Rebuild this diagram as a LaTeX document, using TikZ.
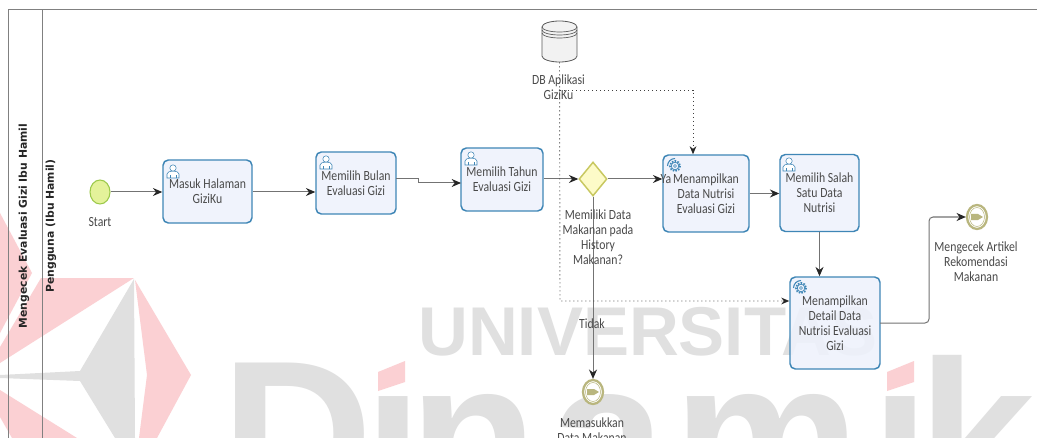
\documentclass[tikz,border=0pt]{standalone}
\usepackage{fontspec}
\setmainfont{Carlito}[FakeStretch=0.84]
\newfontfamily\wmfont{Liberation Sans}[BoldFont={Liberation Sans Bold}]
\newfontfamily\ttlfont{DejaVu Sans}
\usetikzlibrary{arrows.meta,shapes.geometric,calc}
\definecolor{bluebd}{HTML}{3F86B6}
\definecolor{boxfill}{HTML}{EEF2FC}
\definecolor{txt}{HTML}{4A4A4A}
\definecolor{wmgray}{HTML}{E0E0E0}
\definecolor{wmred}{HTML}{FBD0D3}
\definecolor{olive}{HTML}{B9B67E}
\definecolor{startfill}{HTML}{E4F29A}
\definecolor{startbd}{HTML}{9CC94A}
\definecolor{gatefill}{HTML}{FDFBC8}
\definecolor{gatebd}{HTML}{C8C860}
\tikzset{
  x=0.75pt,y=-0.75pt,
  taskbox/.style={draw=bluebd,line width=1.1pt,rounded corners=4pt,fill=boxfill,fill opacity=.88,text opacity=1,
    text=txt,align=center,inner sep=1pt,font=\fontsize{10.5}{11.2}\selectfont},
  lbl/.style={text=txt,align=center,inner sep=0pt,font=\fontsize{10.5}{11.2}\selectfont},
  flow/.style={draw=black!55,line width=.75pt,-{Stealth[length=7pt,width=6pt,color=black!85]}},
  dotflow/.style={draw=black!75,line width=.7pt,dash pattern=on .9pt off 2.1pt,-{Stealth[length=6pt,width=5pt,color=black!85]}},
  laneline/.style={draw=black!50,line width=.75pt},
  ttl/.style={rotate=90,inner sep=0pt,text=black!85,font=\ttlfont\bfseries\fontsize{8.1}{9}\selectfont},
  endring/.style={ellipse,draw=olive,line width=1.7pt,fill=white,minimum width=15pt,minimum height=18pt,inner sep=0pt},
  usericon/.pic={
    \draw[bluebd,line width=.4pt,fill=white] (-6,7) -- (-6,3) .. controls (-6,-1) and (6,-1) .. (6,3) -- (6,7) -- cycle;
    \draw[bluebd,line width=.4pt,fill=white] (0,-3) circle[radius=3.2];
    \draw[bluebd,line width=.4pt] (-3,7) -- (-3,4) (3,7) -- (3,4);
  },
  gearicon/.pic={
    \draw[bluebd,line width=1.2pt,dash pattern=on 1.2pt off 1pt] (0,0) circle[radius=5.2];
    \draw[bluebd,line width=.6pt] (0,0) circle[radius=3.8];
    \draw[bluebd,line width=.5pt] (0,0) circle[radius=1.5];
    \draw[bluebd,line width=.8pt] (-7.5,0) arc[start angle=180,end angle=270,radius=7.5];
  },
}
\begin{document}
\begin{tikzpicture}
\useasboundingbox (0,0) rectangle (1037,438);
\clip (0,0) rectangle (1037,438);
\fill[white] (0,0) rectangle (1037,438);
% watermark logo
\fill[wmred] (0,213) -- (32,273) -- (0,333) -- cycle;
\fill[wmred] (41,278) -- (134,278) -- (0,363) -- (0,347) -- cycle;
\fill[wmred] (135,280) -- (191,375) -- (157,438) -- (139,438) -- (147,375) -- cycle;
\fill[wmred] (0,390) -- (77,438) -- (12,438) -- (0,417) -- cycle;
\fill[wmgray] (134,279) -- (80,371) -- (0,375) -- (0,378) -- (80,381) -- (115,438) -- (135,438) -- cycle;
% watermark text
\node[anchor=base west,inner sep=0pt,text=wmgray,font=\wmfont\bfseries\fontsize{157.5}{158}\selectfont] (wm2) at (221,507) {D\kern-6.75pt i\kern-9.75pt n\kern9pt a\kern5.25pt m\kern9pt i\kern-9pt ka};
\fill[white] (372,350) rectangle (412,392);
\fill[white] (881,335) rectangle (921,392);
\fill[wmred] (378,372) -- (405,361) -- (405,382) -- (378,391) -- cycle;
\fill[wmred] (887,372) -- (914,361) -- (914,382) -- (887,391) -- cycle;
\node[anchor=base west,inner sep=0pt,text=wmgray,font=\wmfont\bfseries\fontsize{51.75}{52}\selectfont] (wm1) at (418,355) {UNIVERSITAS};
% pool
\draw[laneline] (8,438) -- (8,10) -- (1037,10);
\draw[laneline] (42,10) -- (42,438);
\node[ttl] (pool) at (24,226) {Mengecek Evaluasi Gizi Ibu Hamil};
\node[ttl] (lane) at (51,226) {Pengguna (Ibu Hamil)};
% events and gateway
\node[ellipse,draw=startbd,line width=.8pt,fill=startfill,minimum width=15pt,minimum height=18pt,inner sep=0pt] (start) at (100,192) {};
\node[lbl,anchor=center] (startl) at (100,222) {Start};
\node[diamond,draw=gatebd,line width=1.1pt,fill=gatefill,aspect=.82,minimum width=21pt,minimum height=25.5pt,inner sep=0pt] (gate) at (593,179) {};
\node[endring] (end1) at (977,217) {};
\node[endring] (end2) at (593,392) {};
\foreach \c in {end1,end2}{
  \draw[olive,line width=.4pt] (\c) ellipse[x radius=7.5,y radius=9.5];
  \fill[olive] ($(\c)+(-6,-3)$) -- ($(\c)+(1,-3)$) -- ($(\c)+(6,0)$) -- ($(\c)+(1,3)$) -- ($(\c)+(-6,3)$) -- cycle;
}
% tasks
\node[taskbox,minimum width=66.75pt,minimum height=47.25pt] (b1) at (207.5,191.5) {Masuk Halaman\\GiziKu};
\node[taskbox,minimum width=60pt,minimum height=46.5pt] (b2) at (356,183) {Memilih Bulan\\Evaluasi Gizi};
\node[taskbox,minimum width=61.5pt,minimum height=47.25pt] (b3) at (502,179.5) {Memilih Tahun\\Evaluasi Gizi};
\node[taskbox,minimum width=64.5pt,minimum height=57.75pt] (b4) at (706,193.5) {Menampilkan\\Data Nutrisi\\Evaluasi Gizi};
\node[taskbox,minimum width=59.25pt,minimum height=57.75pt] (b5) at (819.5,193) {Memilih Salah\\Satu Data\\Nutrisi};
\node[taskbox,minimum width=67.5pt,minimum height=69pt] (b6) at (835,323) {Menampilkan\\Detail Data\\Nutrisi Evaluasi\\Gizi};
\pic at (173,171) {usericon};
\pic at (326,162) {usericon};
\pic at (471,158) {usericon};
\pic at (789,164) {usericon};
\pic at (675,166) {gearicon};
\pic at (801,288) {gearicon};
% database
\node[minimum width=26.25pt,minimum height=30.75pt,inner sep=0pt] (db) at (559.5,41.5) {};
\draw[black!65,line width=.6pt,fill=black!5] (542,27) arc[start angle=180,end angle=360,x radius=17.5,y radius=6] -- (577,56) arc[start angle=0,end angle=180,x radius=17.5,y radius=6] -- cycle;
\draw[black!65,line width=.5pt] (542,27) arc[start angle=180,end angle=0,x radius=17.5,y radius=5];
\draw[black!65,line width=.5pt] (542,30) arc[start angle=180,end angle=0,x radius=17.5,y radius=5];
\draw[black!65,line width=.5pt] (542,33) arc[start angle=180,end angle=0,x radius=17.5,y radius=5];
% sequence flows
\coordinate (c2) at (396,179);
\coordinate (c2m) at (418,179);
\coordinate (c3m) at (418,183);
\coordinate (c3) at (461,183);
\coordinate (c6) at (880,323);
\coordinate (c6m) at (929,323);
\draw[flow] (start.east) -- (start.east -| b1.west);
\draw[flow] (b1.east |- start) -- (start -| b2.west);
\draw[flow] (c2) -- (c2m) -- (c3m) -- (c3);
\draw[flow] (b3.east |- gate) -- (gate.west);
\draw[flow] (gate.east) -- (gate.east -| b4.west);
\draw[flow] (b4.east) -- (b4.east -| b5.west);
\draw[flow] (b5.south) -- (b5.south |- b6.north);
\draw[flow,rounded corners=3pt] (c6) -- (c6m) -- (c6m |- end1) -- (end1.west);
\draw[flow] (gate.south) -- (end2.north);
% data associations
\coordinate (d1) at (560,90);
\coordinate (d2) at (560,301);
\coordinate (d3) at (693,90);
\draw[dotflow] (db.south) -- (d2) -- (d2 -| b6.west);
\draw[dotflow] (d1) -- (d3) -- (d3 |- b4.north);
% labels
\node[lbl] (dbl) at (558.5,87.5) {DB Aplikasi\\GiziKu};
\node[lbl] (gatel) at (598,237.5) {Memiliki Data\\Makanan pada\\History\\Makanan?};
\node[lbl] (end1l) at (976,261.5) {Mengecek Artikel\\Rekomendasi\\Makanan};
\node[lbl] (end2l) at (592,430) {Memasukkan\\Data Makanan};
\node[lbl] (tidak) at (592,324) {Tidak};
\node[lbl] (ya) at (666,179) {Ya};
\end{tikzpicture}
\end{document}
